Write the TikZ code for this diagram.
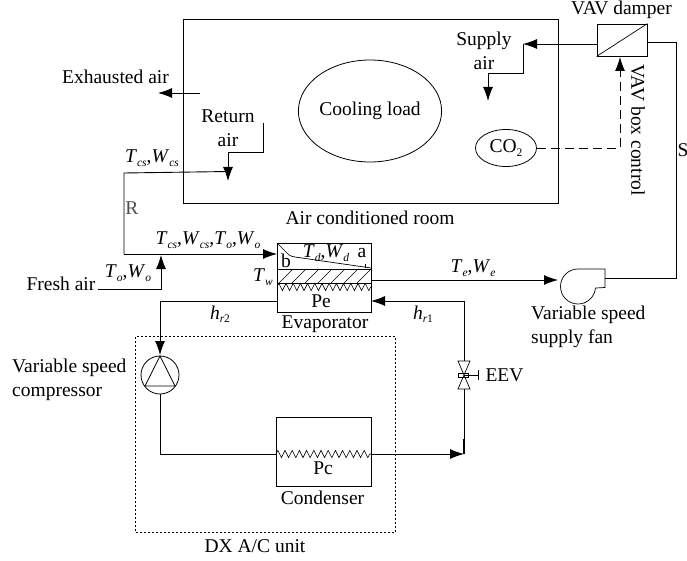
\documentclass[tikz,border=0pt]{standalone}
\usepackage{amsmath, amssymb}
\usepackage{fontspec}
\setmainfont{Liberation Serif}
\usepackage{tikz}
\usetikzlibrary{arrows.meta,shapes.geometric,decorations.pathmorphing}
\newcommand{\subtxt}[1]{\raisebox{-3.5pt}{\fontsize{11.5}{12}\selectfont #1}}
\newcommand{\vb}[2]{\textit{#1}\subtxt{\itshape #2}}
\tikzset{
  lbl/.style={inner sep=0pt,font=\fontsize{19.5}{24}\selectfont,align=center},
  var/.style={inner sep=0pt,font=\fontsize{19.5}{24}\selectfont},
  box/.style={draw,line width=0.9pt,inner sep=0pt},
  pipe/.style={line width=0.9pt},
  flow/.style={line width=0.9pt,-{Latex[length=14pt,width=10pt]}},
  coil/.style={line width=0.6pt,decorate,decoration={zigzag,segment length=7.2pt,amplitude=3.6pt}}
}
\begin{document}
\begin{tikzpicture}[x=1pt,y=-1pt]
\useasboundingbox (0,0) rectangle (687,561);
% room and parts
\path (370.5,111) node [box,minimum width=375pt,minimum height=184pt] (room) {}
      (370,111) node [box,ellipse,line width=0.8pt,minimum width=139pt,minimum height=102pt,lbl] (load) {Cooling load}
      (506,148) node [box,ellipse,line width=0.8pt,minimum width=61pt,minimum height=37pt,lbl] (co2) {CO\subtxt{2}}
      (622,40) node [box,minimum width=50pt,minimum height=32pt] (damper) {}
      (324,277.5) node [box,minimum width=94pt,minimum height=69pt] (evap) {}
      (323.5,451.5) node [box,minimum width=95pt,minimum height=69pt] (cond) {}
      (160,375) node [box,circle,line width=0.8pt,minimum size=38pt] (comp) {}
      (265.5,434.5) node [box,draw=none,minimum width=259pt,minimum height=195pt] (dxbox) {};
\draw [line width=0.6pt,dash pattern=on 2.5pt off 1.5pt] (dxbox.north west) rectangle (dxbox.south east);
\draw [line width=0.7pt] (damper.south west) -- (damper.north east);
% labels
\path (621.5,10) node [lbl] (damperl) {VAV damper}
      (484,51) node [lbl] (supply) {Supply\\air}
      (115.5,77) node [lbl] (exh) {Exhausted air}
      (228,128) node [lbl] (ret) {Return\\air}
      (370,218) node [lbl] (rooml) {Air conditioned room}
      (638,130) node [lbl,rotate=-90] (vavbox) {VAV box control}
      (683,150) node [lbl] (s) {S}
      (132,208) node [lbl,text=black!70] (r) {R}
      (61,284) node [lbl] (fresh) {Fresh air}
      (325,324) node [lbl] (evapl) {Evaporator}
      (321,301) node [lbl] (pe) {Pe}
      (323,468) node [lbl] (pc) {Pc}
      (322.5,498) node [lbl] (condl) {Condenser}
      (255,546) node [lbl] (dx) {DX A/C unit}
      (504.5,375) node [lbl] (eev) {EEV}
      (531,327) node [lbl,anchor=west,align=left] (fanl) {Variable speed\\supply fan}
      (12,380) node [lbl,anchor=west,align=left] (compl) {Variable speed\\compressor}
      (362,253) node [lbl] (a) {a}
      (286,261) node [lbl] (b) {b}
      (152,158) node [var] (v1) {\vb{T}{cs},\vb{W}{cs}}
      (208,240) node [var] (v2) {\vb{T}{cs},\vb{W}{cs},\vb{T}{o},\vb{W}{o}}
      (128,273) node [var] (v3) {\vb{T}{o},\vb{W}{o}}
      (263,277) node [var] (v4) {\vb{T}{w}}
      (326,253) node [var] (v5) {\vb{T}{d},\vb{W}{d}}
      (473,268) node [var] (v6) {\vb{T}{e},\vb{W}{e}}
      (220,314) node [var] (v7) {\vb{h}{r\upshape 2}}
      (423,314) node [var] (v8) {\vb{h}{r\upshape 1}};
% evaporator inside
\foreach \xh in {279,292,...,357}
  \draw [line width=0.6pt] (\xh,283) -- ++(14,-14);
\draw [line width=0.7pt] (277,269) -- (371,269) (277,283) -- (371,283);
\draw [coil] (277,287) -- (371,287);
\draw [line width=0.7pt] (277,243) -- (289,255) .. controls (291,256.5) and (293,256.5) .. (295,257) -- (371,268);
\draw [line width=0.5pt] (365,264) -- (365,268);
% condenser coil
\draw [coil] (276,454) -- (371,454);
% compressor triangle
\path (160,356) coordinate (triTop) (145,386) coordinate (triL) (175,386) coordinate (triR);
\draw [line width=0.7pt] (triTop) -- (triL) -- (triR) -- cycle;
% fan
\path (558,280) coordinate (fanIn) (605,278) coordinate (fanOut);
\draw [line width=0.7pt] (605,269) -- (578,269) arc (270:90:17.5) arc (90:5:17.5) -- (605,287.5) -- cycle;
% valve
\path (464,361) coordinate (vTop) (464,389) coordinate (vBot) (464,375) coordinate (vMid) (478,375) coordinate (vEnd);
\draw [line width=0.7pt] (458,361) -- (470,361) -- (458,389) -- (470,389) -- cycle;
\draw [line width=0.6pt] (458,373) rectangle (468,377);
\draw [line width=0.7pt] (vMid) -- (vEnd) (478,370) -- (478,380);
% air side
\path (676,42) coordinate (c1) (676,278) coordinate (c2) (523,44) coordinate (c3) (523,73) coordinate (c4)
      (488,73) coordinate (c5) (488,101) coordinate (c6) (620,148) coordinate (c7) (620,57) coordinate (c8)
      (263,123) coordinate (c9) (263,152) coordinate (c10) (228,152) coordinate (c11) (228,181) coordinate (c12)
      (124,173) coordinate (c13) (124,254) coordinate (c14) (98,289) coordinate (c15) (161,289) coordinate (c16)
      (161,255) coordinate (c17) (200,93) coordinate (c18) (158,93) coordinate (c19)
      (228,171.5) coordinate (c20) (277,254) coordinate (c21) (371,280) coordinate (c22);
\draw [pipe] (damper.east |- c1) -- (c1) -- (c2) -- (fanOut);
\draw [flow] (damper.west |- c3) -- (c3);
\draw [flow] (c3) -- (c4) -- (c5) -- (c6);
\draw [flow,dash pattern=on 9pt off 5pt] (co2.east) -- (c7) -- (c8);
\draw [flow] (c9) -- (c10) -- (c11) -- (c12);
\draw [pipe] (c20) -- (c13) -- (c14);
\draw [flow] (c14) -- (c21);
\draw [flow] (c15) -- (c16) -- (c17);
\draw [flow] (c18) -- (c19);
\draw [flow] (c22) -- (fanIn);
% refrigerant side
\path (277,301) coordinate (d1) (160,301) coordinate (d2) (160,355) coordinate (d3) (160,394) coordinate (d4)
      (160,454) coordinate (d5) (276,454) coordinate (d6) (371,454) coordinate (d7) (464,454) coordinate (d8)
      (464,301) coordinate (d9) (371,301) coordinate (d10);
\draw [flow] (d1) -- (d2) -- (d3);
\draw [pipe] (d4) -- (d5) -- (d6);
\draw [flow] (d7) -- (d8);
\draw [pipe] (d8) -- (vBot) (vTop) -- (d9);
\draw [line width=2pt] (464,439) -- (d8);
\draw [flow] (d9) -- (d10);
\end{tikzpicture}
\end{document}
